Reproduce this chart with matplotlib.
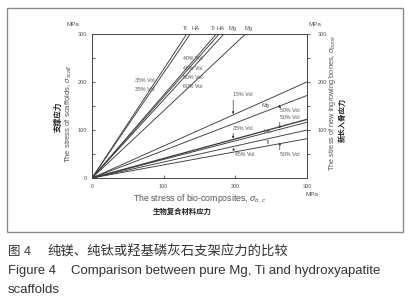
import numpy as np
import matplotlib.pyplot as plt
from matplotlib.patches import Rectangle

plt.rcParams['font.family'] = ['Liberation Sans', 'Noto Sans CJK SC', 'DejaVu Sans']
plt.rcParams['mathtext.fontset'] = 'custom'
plt.rcParams['mathtext.rm'] = 'Liberation Sans'
plt.rcParams['mathtext.it'] = 'Liberation Sans:italic'

# stress of bio-composite (x axis), MPa
comp = np.array([0, 300])

# scaffold stress / composite stress (left axis)
upper_mat = ['Ti', 'HA', 'Ti', 'HA', 'Mg', 'Mg']
upper_vol = ['35% Vol', '35% Vol', '40% Vol', '45% Vol', '50% Vol', '60% Vol']
upper_ratio = [2.27, 2.19, 1.73, 1.69, 1.63, 1.40]

# new bone stress / composite stress (right axis)
lower_mat = ['Mg', 'Mg', 'HA', 'HA', 'Ti', 'Ti']
lower_vol = ['15% Vol', '50% Vol', '35% Vol', '50% Vol', '45% Vol', '50% Vol']
lower_ratio = [0.667, 0.573, 0.407, 0.387, 0.333, 0.273]

W, H = 420, 300
LC = '#3c3c3c'
TC = '#555555'

fig = plt.figure(figsize=(4.2, 3.0), dpi=100)
fig.add_artist(Rectangle((7 / W, 1 - 232 / H), 396 / W, 224 / H, transform=fig.transFigure,
                         fill=False, edgecolor='#8a8a8a', lw=1.0))

ax = fig.add_axes([92 / W, 1 - 178 / H, 215 / W, 144 / H])
ax.set_xlim(0, 300)
ax.set_ylim(0, 300)

for r in upper_ratio:
    ax.plot(comp, comp * r, color=LC, lw=0.65)
for i, r in enumerate(lower_ratio):
    ax.plot(comp, comp * r, color=LC, lw=0.95 if i == 2 else 0.65)

for s in ax.spines.values():
    s.set_color('#444444')
    s.set_linewidth(0.7)

ax.set_xticks([0, 100, 200, 300])
ax.set_yticks([0, 100, 200, 300])
ax.set_yticks([50, 150, 250], minor=True)
ax.tick_params(axis='both', which='both', direction='in', length=2.5, width=0.6,
               color='#444444', labelsize=4, labelcolor=TC)
ax.tick_params(axis='x', pad=4)
ax.tick_params(axis='y', pad=3.5)

ax2 = ax.twinx()
ax2.set_ylim(0, 300)
ax2.set_yticks([100, 200, 300])
ax2.set_yticks([50, 150, 250], minor=True)
ax2.tick_params(axis='y', which='both', direction='out', length=2.5, width=0.6,
                color='#444444', labelsize=4, labelcolor=TC, pad=5)
for s in ax2.spines.values():
    s.set_visible(False)

# material names above the steep lines
name_dx = [-1, 4, -2, 1, 6, 2]
for m, r, dx in zip(upper_mat, upper_ratio, name_dx):
    ax.annotate(m, xy=(300 / r, 300), xytext=(dx, 2), textcoords='offset points',
                ha='center', va='bottom', fontsize=4.2, color=TC, annotation_clip=False)

# volume fraction labels on the steep lines
upper_pos = [(60, 204), (60, 185), (127, 248), (127, 229), (127, 210), (127, 190)]
for v, (x, y) in zip(upper_vol, upper_pos):
    ax.text(x, y, v, fontsize=3.8, color=TC, ha='left', va='center')

# labels with small arrows on the shallow lines
lower_pos = [(197, 173), (262, 140), (197, 104), (262, 127), (199, 48), (262, 48)]
lower_tip = [(197, 133), (262, 152), (197, 82), (262, 103), (197, 63), (262, 74)]
for v, (x, y), tip in zip(lower_vol, lower_pos, lower_tip):
    ax.annotate(v, xy=tip, xytext=(x, y), fontsize=3.8, color=TC, ha='left', va='center',
                arrowprops=dict(arrowstyle='-|>', lw=0.5, color='#333333',
                                mutation_scale=3, relpos=(0, 0.5), shrinkA=0, shrinkB=0))
ax.text(237, 152, 'Mg', fontsize=4, color=TC, ha='left', va='center')
ax.text(239, 96, 'HA', fontsize=4, color=TC, ha='left', va='center')
ax.text(243, 74, 'Ti', fontsize=4, color=TC, ha='left', va='center')

# units
fig.text(73 / W, 1 - 25 / H, 'MPa', fontsize=4.5, color=TC, ha='center', va='center')
fig.text(315 / W, 1 - 25 / H, 'MPa', fontsize=4.5, color=TC, ha='center', va='center')
fig.text(312 / W, 1 - 194 / H, 'MPa', fontsize=4.5, color=TC, ha='center', va='center')

# axis titles
fig.text(200 / W, 1 - 199 / H, r'The stress of bio-composites, $\sigma_{b,c}$',
         fontsize=6.3, color=TC, ha='center', va='center')
fig.text(182 / W, 1 - 212 / H, '生物复合材料应力', fontsize=5.3, fontweight='bold',
         color='#222222', ha='center', va='center')
fig.text(69 / W, 1 - 114 / H, r'The stress of scaffolds, $\sigma_{scaff}$', fontsize=5.5,
         color=TC, ha='center', va='center', rotation=90)
fig.text(59 / W, 1 - 117 / H, '支撑应力', fontsize=5.5, fontweight='bold',
         color='#222222', ha='center', va='center', rotation=90)
fig.text(332 / W, 1 - 103 / H, r'The stress of new ingrowing bones, $\sigma_{bone}$',
         fontsize=5.3, color=TC, ha='center', va='center', rotation=90)
fig.text(343 / W, 1 - 120 / H, '新长入骨应力', fontsize=5.3, fontweight='bold',
         color='#222222', ha='center', va='center', rotation=90)

# caption
fig.text(8 / W, 1 - 252 / H, '图 4', fontsize=9, color='#333333', ha='left', va='center')
fig.text(47 / W, 1 - 252 / H, '纯镁、纯钛或羟基磷灰石支架应力的比较', fontsize=9.6,
         color='#333333', ha='left', va='center')
fig.text(8 / W, 1 - 271 / H, 'Figure 4', fontsize=9.4, color='#333333', ha='left', va='center')
fig.text(71 / W, 1 - 271 / H, 'Comparison between pure Mg, Ti and hydroxyapatite',
         fontsize=9.5, color='#333333', ha='left', va='center')
fig.text(8 / W, 1 - 290 / H, 'scaffolds', fontsize=9.5, color='#333333', ha='left', va='center')

fig.savefig('out.png', dpi=100)
